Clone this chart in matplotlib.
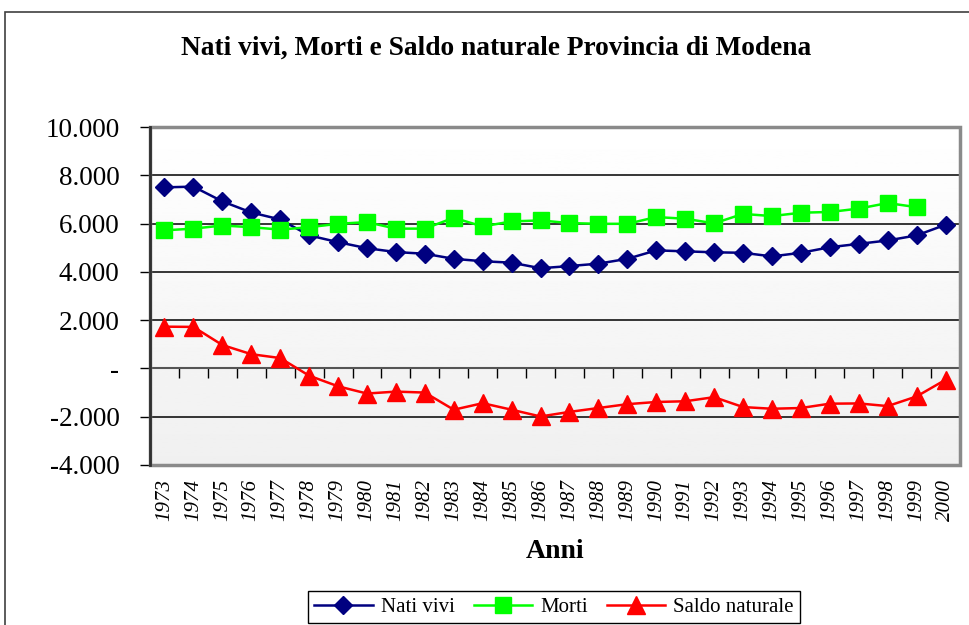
import matplotlib
matplotlib.use("Agg")
import matplotlib.pyplot as plt
import numpy as np
from matplotlib.patches import Rectangle
from matplotlib.lines import Line2D
import matplotlib.transforms as mtransforms

years = [str(y) for y in range(1973, 2001)]
nati_vivi = [7500, 7530, 6920, 6460, 6170, 5510, 5230, 4980, 4820, 4750,
             4540, 4440, 4380, 4150, 4240, 4340, 4540, 4890, 4850, 4810,
             4790, 4640, 4790, 5020, 5160, 5300, 5510, 5950]
morti = [5720, 5790, 5920, 5850, 5750, 5850, 5990, 6060, 5790, 5790,
         6240, 5880, 6090, 6130, 6020, 5990, 5990, 6270, 6200, 6010,
         6400, 6310, 6450, 6480, 6620, 6850, 6680, np.nan]
saldo = [1730, 1720, 970, 590, 430, -300, -740, -1040, -960, -1000,
         -1710, -1440, -1710, -1990, -1800, -1640, -1480, -1390, -1360, -1190,
         -1600, -1670, -1640, -1460, -1450, -1560, -1160, -470]
yticks = [-4000, -2000, 0, 2000, 4000, 6000, 8000, 10000]
ytick_labels = ["-4.000", "-2.000", "-", "2.000", "4.000", "6.000", "8.000", "10.000"]
title = "Nati vivi, Morti e Saldo naturale Provincia di Modena"
xlabel = "Anni"
series_names = ["Nati vivi", "Morti", "Saldo naturale"]

W, H = 969, 625
fig = plt.figure(figsize=(W / 100, H / 100), dpi=100)
fig.patch.set_facecolor("white")
serif = "Liberation Serif"

# outer chart frame
fig.patches.append(Rectangle((5 / W, -0.1), 1.1, 1 - 12 / H + 0.1, transform=fig.transFigure,
                             fill=False, edgecolor="#404040", lw=1.2))

L, R, T, B = 150, 960, 127, 465
ax = fig.add_axes([L / W, 1 - B / H, (R - L) / W, (B - T) / H])
x = np.arange(len(years))
ax.set_xlim(-0.5, len(years) - 0.5)
ax.set_ylim(-4000, 10000)

# gradient background
grad = np.linspace(1.0, 0.94, 256).reshape(-1, 1)
ax.imshow(grad, cmap="gray", vmin=0, vmax=1, aspect="auto",
          extent=[0, 1, 0, 1], transform=ax.transAxes, zorder=0)

for yv in yticks[1:-1]:
    if yv != 0:
        ax.axhline(yv, color="black", lw=1.1, zorder=1)

ax.set_yticks(yticks)
ax.set_yticklabels(ytick_labels, fontsize=19.5, family=serif)
ax.tick_params(axis="y", direction="out", length=7, width=1, pad=15, color="black")

for s in ["top", "right"]:
    ax.spines[s].set_visible(False)
ax.spines["left"].set_color("#404040")
ax.spines["left"].set_linewidth(2)
ax.spines["bottom"].set_position(("data", 0))
ax.spines["bottom"].set_color("#555555")
ax.spines["bottom"].set_linewidth(1.5)
ax.spines["bottom"].set_zorder(2)
ax.set_xticks(x)
ax.set_xticklabels([])
ax.tick_params(axis="x", which="major", length=0)
ax.set_xticks(np.arange(len(years) + 1) - 0.5, minor=True)
ax.tick_params(axis="x", which="minor", direction="out", length=7, width=1, color="black")

# plot area frame (top, right, bottom)
ax.add_patch(Rectangle((0, 0), 1, 1, transform=ax.transAxes, fill=False,
                       edgecolor="#8a8a8a", lw=2.5, zorder=3, clip_on=False))
ax.plot([0, 0], [0, 1], transform=ax.transAxes, color="#303030", lw=2, zorder=4, clip_on=False)

trans = mtransforms.blended_transform_factory(ax.transData, ax.transAxes)
for i, lab in enumerate(years):
    ax.text(i, -0.04, lab, transform=trans, rotation=90, ha="center", va="top",
            fontsize=15, family=serif, style="italic")

ax.plot(x, nati_vivi, color="#000080", marker="D", markersize=9, lw=1.8, zorder=5,
        label=series_names[0])
ax.plot(x, morti, color="#00ff00", marker="s", markersize=11.5, lw=1.8, zorder=5,
        label=series_names[1])
ax.plot(x, saldo, color="#ff0000", marker="^", markersize=13, lw=1.8, zorder=5,
        label=series_names[2])

fig.text(496 / W, 1 - 48 / H, title, ha="center", va="center", fontsize=19.7,
         fontweight="bold", family=serif)
fig.text(555 / W, 1 - 551 / H, xlabel, ha="center", va="center", fontsize=20,
         fontweight="bold", family=serif)

handles = [Line2D([], [], color="#000080", marker="D", markersize=9, lw=1.8),
           Line2D([], [], color="#00ff00", marker="s", markersize=11.5, lw=1.8),
           Line2D([], [], color="#ff0000", marker="^", markersize=13, lw=1.8)]
leg = fig.legend(handles, series_names, loc="upper left", bbox_to_anchor=(308 / W, 1 - 591 / H),
                 ncol=3, frameon=True, fancybox=False, edgecolor="black", framealpha=1,
                 prop={"family": serif, "size": 15}, handlelength=2.8, columnspacing=0.9,
                 handletextpad=0.4, borderpad=0.3, borderaxespad=0)
leg.get_frame().set_linewidth(1.0)

fig.savefig("out.png", dpi=100)
